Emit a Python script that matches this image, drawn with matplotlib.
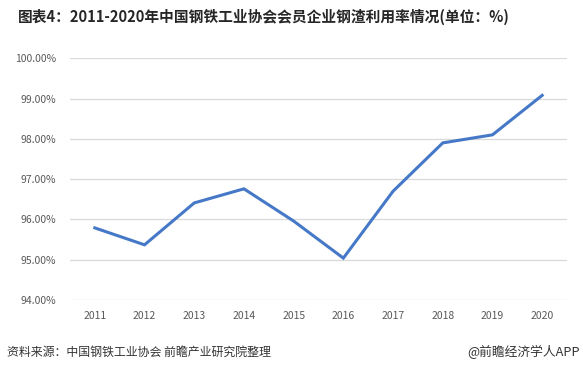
import matplotlib.pyplot as plt
from matplotlib.ticker import FuncFormatter

plt.rcParams['font.family'] = ['Noto Sans CJK SC', 'DejaVu Sans']

# data
years = ['2011', '2012', '2013', '2014', '2015', '2016', '2017', '2018', '2019', '2020']
rate = [95.79, 95.37, 96.41, 96.76, 95.96, 95.04, 96.70, 97.90, 98.10, 99.08]
y_ticks = [94, 95, 96, 97, 98, 99, 100]

title = '图表4：2011-2020年中国钢铁工业协会会员企业钢渣利用率情况(单位：%)'
source = '资料来源：中国钢铁工业协会 前瞻产业研究院整理'
brand = '@前瞻经济学人APP'

fig = plt.figure(figsize=(5.83, 3.72), dpi=100)
ax = fig.add_axes([0.120, 0.1935, 0.8526, 0.6498])

x = list(range(len(years)))
ax.plot(x, rate, color='#4678c8', linewidth=2.2, solid_joinstyle='miter')

ax.set_xlim(-0.5, len(years) - 0.5)
ax.set_ylim(94, 100)
ax.set_yticks(y_ticks)
ax.yaxis.set_major_formatter(FuncFormatter(lambda v, _: f'{v:.2f}%'))
ax.set_xticks(x)
ax.set_xticklabels(years)

ax.grid(axis='y', color='#d9d9d9', linewidth=0.9)
ax.set_axisbelow(True)
for s in ax.spines.values():
    s.set_visible(False)
ax.tick_params(length=0, labelsize=7.5, labelcolor='#595959')
ax.tick_params(axis='y', pad=10)
ax.tick_params(axis='x', pad=8)

fig.text(0.03, 0.955, title, fontsize=10.6, fontweight='bold', color='#262626',
         va='center', ha='left')
fig.text(0.012, 0.053, source, fontsize=8.6, color='#333333', va='center', ha='left')
fig.text(0.995, 0.053, brand, fontsize=9.2, color='#333333', va='center', ha='right')

fig.savefig('out.png', dpi=100)
